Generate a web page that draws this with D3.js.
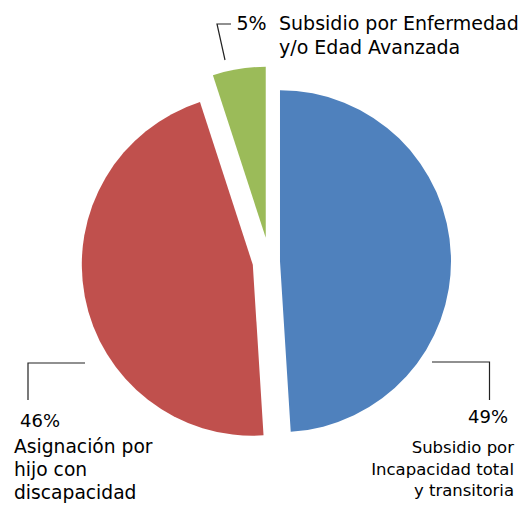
<!DOCTYPE html>
<html>
<head>
<meta charset="utf-8">
<script src="https://cdn.jsdelivr.net/npm/d3@7"></script>
<style>
  html, body { margin: 0; padding: 0; background: #fff; }
  svg { display: block; font-family: 'DejaVu Sans', sans-serif; }
</style>
</head>
<body>
<div class="chart"></div>
<script>
// data, in pie order (clockwise from 12 o'clock)
const categories = [
  'Subsidio por Incapacidad total y transitoria',
  'Asignación por hijo con discapacidad',
  'Subsidio por Enfermedad y/o Edad Avanzada'
]
const values = [49, 46, 5]
const labelLines = [
  ['Subsidio por', 'Incapacidad total', 'y transitoria'],
  ['Asignación por', 'hijo con', 'discapacidad'],
  ['Subsidio por Enfermedad', 'y/o Edad Avanzada']
]

// styling
const colors = ['#4f81bd', '#c0504d', '#9bbb59']
const explode = [10.5, 17, 24]

// where each label sits (leader polyline, percent text, category text)
const labelLayout = [
  { leader: [[432, 362], [489.5, 362], [489.5, 400]], pct: [508, 423], anchor: 'end', textX: 514, baselines: [453, 474.5, 496], size: 16.5, pctSize: 18 },
  { leader: [[85, 363], [28, 363], [28, 400]], pct: [20, 427], anchor: 'start', textX: 14, baselines: [453, 476, 498.5], size: 18.7, pctSize: 18 },
  { leader: [[225, 60], [217, 24], [231, 24]], pct: [236.5, 30], anchor: 'start', textX: 279, baselines: [30, 54], size: 19, pctSize: 19 }
]

const width = 522
const height = 512
const center = { x: 269.5, y: 261.5 }
const radius = 171

const data = categories.map((name, i) => ({ name, value: values[i], index: i }))

const pie = d3.pie().sort(null).value(d => d.value)
const arc = d3.arc().innerRadius(0).outerRadius(radius)

const svg = d3.select('.chart')
  .append('svg')
  .attr('width', width)
  .attr('height', height)

const g = svg.append('g')
  .attr('transform', `translate(${center.x},${center.y})`)

const slices = pie(data)

g.selectAll('path')
  .data(slices)
  .enter()
  .append('path')
  .attr('d', arc)
  .attr('fill', d => colors[d.data.index])
  .attr('transform', d => {
    const mid = (d.startAngle + d.endAngle) / 2
    const off = explode[d.data.index]
    return `translate(${off * Math.sin(mid)},${-off * Math.cos(mid)})`
  })

const line = d3.line()

const labels = svg.selectAll('g.label')
  .data(slices)
  .enter()
  .append('g')
  .attr('class', 'label')

labels.append('path')
  .attr('d', d => line(labelLayout[d.data.index].leader))
  .attr('fill', 'none')
  .attr('stroke', '#222')
  .attr('stroke-width', 1.2)

labels.append('text')
  .attr('x', d => labelLayout[d.data.index].pct[0])
  .attr('y', d => labelLayout[d.data.index].pct[1])
  .attr('text-anchor', d => labelLayout[d.data.index].anchor)
  .attr('font-size', d => labelLayout[d.data.index].pctSize)
  .attr('fill', '#000')
  .text(d => `${d.data.value}%`)

labels.each(function (d) {
  const lay = labelLayout[d.data.index]
  const t = d3.select(this).append('text')
    .attr('text-anchor', lay.anchor)
    .attr('font-size', lay.size)
    .attr('fill', '#000')
  labelLines[d.data.index].forEach((ln, k) => {
    t.append('tspan')
      .attr('x', lay.textX)
      .attr('y', lay.baselines[k])
      .text(ln)
  })
})
</script>
</body>
</html>
